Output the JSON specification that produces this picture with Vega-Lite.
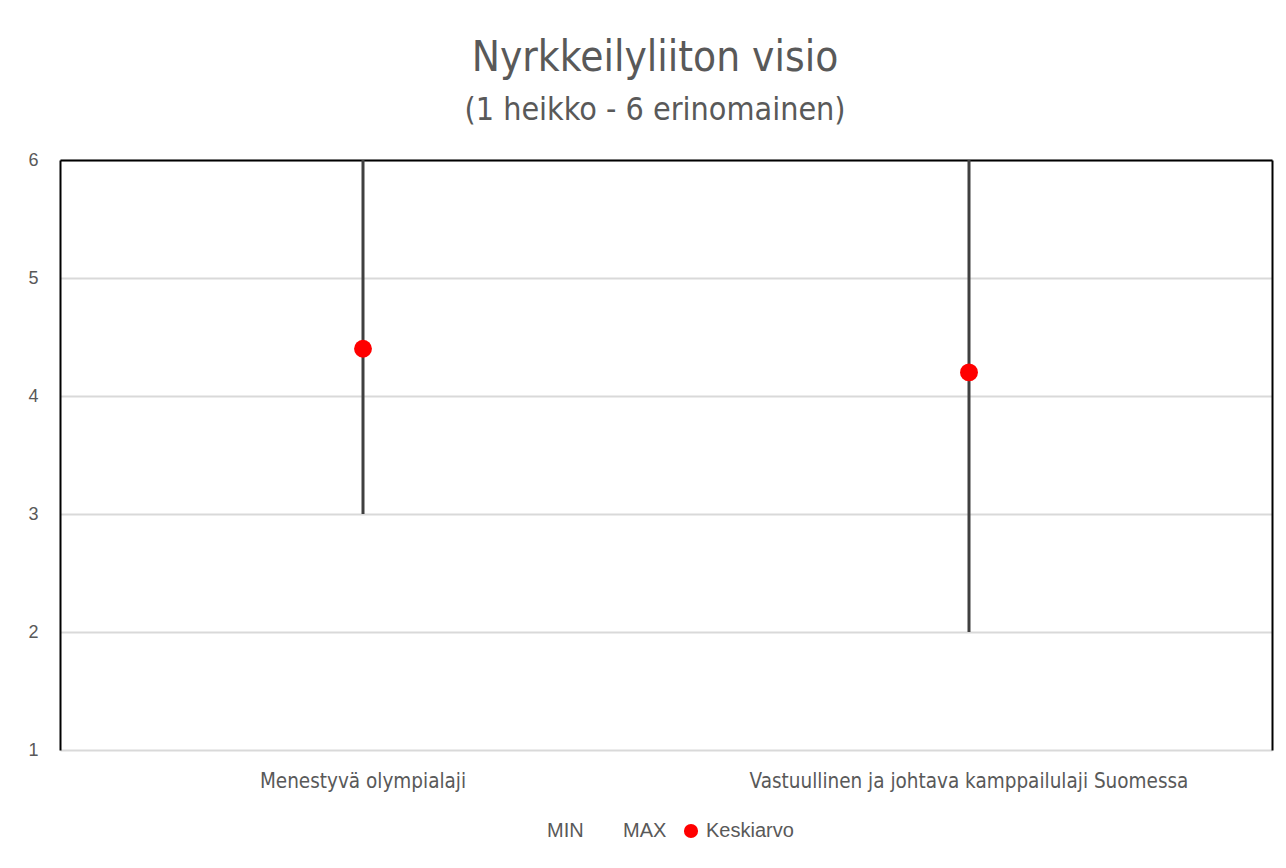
{
  "$schema": "https://vega.github.io/schema/vega-lite/v6.json",
  "width": 1212,
  "height": 590,
  "padding": {"left": 60, "top": 160, "right": 14, "bottom": 118},
  "autosize": {"type": "none"},
  "background": "white",
  "config": {"view": {"stroke": null}},
  "title": {
    "text": "Nyrkkeilyliiton visio",
    "subtitle": "(1 heikko - 6 erinomainen)",
    "anchor": "middle",
    "dx": -11,
    "offset": 24,
    "font": "DejaVu Sans Condensed, Liberation Sans Narrow, sans-serif",
    "fontSize": 42,
    "fontWeight": "normal",
    "color": "#595959",
    "subtitleFont": "DejaVu Sans Condensed, Liberation Sans Narrow, sans-serif",
    "subtitleFontSize": 32,
    "subtitleColor": "#595959",
    "subtitlePadding": 15
  },
  "data": {
    "values": [
      {"kategoria": "Menestyvä olympialaji", "MIN": 3, "MAX": 6, "Keskiarvo": 4.4},
      {"kategoria": "Vastuullinen ja johtava kamppailulaji Suomessa", "MIN": 2, "MAX": 6, "Keskiarvo": 4.2}
    ]
  },
  "resolve": {"axis": {"x": "independent", "y": "independent"}},
  "layer": [
    {
      "mark": {"type": "rule", "color": "#404040", "strokeWidth": 3},
      "encoding": {
        "x": {
          "field": "kategoria",
          "type": "nominal",
          "sort": null,
          "scale": {"paddingInner": 0, "paddingOuter": 0},
          "axis": {
            "orient": "bottom",
            "title": null,
            "labelAngle": 0,
            "domain": false,
            "ticks": false,
            "labelPadding": 21,
            "labelLimit": 0,
            "labelFont": "DejaVu Sans Condensed, Liberation Sans Narrow, sans-serif",
            "labelFontSize": 20.5,
            "labelColor": "#595959"
          }
        },
        "y": {
          "field": "MIN",
          "type": "quantitative",
          "scale": {"domain": [1, 6], "nice": false, "zero": false},
          "axis": {
            "orient": "left",
            "title": null,
            "values": [1, 2, 3, 4, 5, 6],
            "labelOverlap": false,
            "domain": true,
            "domainColor": "#000000",
            "domainWidth": 2,
            "ticks": false,
            "labelPadding": 22,
            "labelFont": "Liberation Sans, Arial, sans-serif",
            "labelFontSize": 18,
            "labelColor": "#595959",
            "grid": true,
            "gridColor": "#d9d9d9",
            "gridWidth": 2
          }
        },
        "y2": {"field": "MAX"}
      }
    },
    {
      "mark": {"type": "point", "filled": true, "opacity": 1, "size": 320, "shape": "circle"},
      "encoding": {
        "x": {
          "field": "kategoria",
          "type": "nominal",
          "sort": null,
          "axis": {
            "orient": "top",
            "title": null,
            "labels": false,
            "ticks": false,
            "domain": true,
            "domainColor": "#000000",
            "domainWidth": 2,
            "grid": false
          }
        },
        "y": {
          "field": "Keskiarvo",
          "type": "quantitative",
          "axis": {
            "orient": "right",
            "title": null,
            "labels": false,
            "ticks": false,
            "domain": true,
            "domainColor": "#000000",
            "domainWidth": 2,
            "grid": false
          }
        },
        "color": {
          "datum": "Keskiarvo",
          "type": "nominal",
          "scale": {"domain": ["MIN", "MAX", "Keskiarvo"], "range": ["transparent", "transparent", "#ff0000"]},
          "legend": {
            "title": null,
            "orient": "none",
            "direction": "horizontal",
            "legendX": 462,
            "legendY": 661,
            "symbolType": "circle",
            "symbolSize": 200,
            "symbolStrokeWidth": 0,
            "labelOffset": 5,
            "columnPadding": 14,
            "labelFont": "Liberation Sans, Arial, sans-serif",
            "labelFontSize": 20,
            "labelColor": "#595959"
          }
        }
      }
    }
  ]
}
